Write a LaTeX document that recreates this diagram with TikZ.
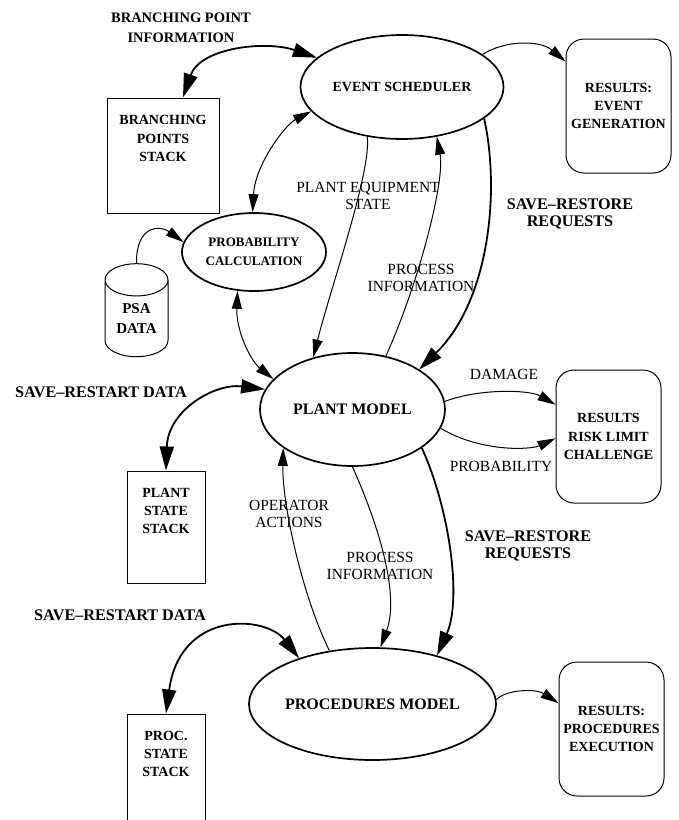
\documentclass[tikz,border=0pt]{standalone}
\usepackage{fontspec}
\setmainfont{Liberation Serif}
\usetikzlibrary{arrows.meta, positioning, shapes.geometric}

\begin{document}
\begin{tikzpicture}[x=1pt, y=-1pt,
    procnode/.style={draw, ellipse, line width=1.7pt, inner sep=0pt, align=center,
                     font=\bfseries\fontsize{14}{17}\selectfont},
    stackbox/.style={draw, rectangle, line width=1pt, inner sep=0pt,
                     minimum width=78pt},
    resultbox/.style={draw, rounded corners=18pt, line width=1pt, inner sep=0pt,
                      minimum width=105pt, minimum height=134pt, align=center,
                      font=\bfseries\fontsize{14}{18.3}\selectfont},
    boxtext/.style={align=center, inner sep=0pt,
                    font=\bfseries\fontsize{14}{18.3}\selectfont},
    flowlabel/.style={align=center, inner sep=0pt,
                      font=\fontsize{15.5}{16.7}\selectfont},
    datalabel/.style={align=center, inner sep=0pt,
                      font=\bfseries\fontsize{16.2}{16.5}\selectfont},
    thinflow/.style={line width=1pt, -{Triangle[length=18pt, width=10pt]}},
    thinboth/.style={line width=1pt,
                     {Triangle[length=18pt, width=10pt]}-{Triangle[length=18pt, width=10pt]}},
    thickflow/.style={line width=1.8pt, -{Triangle[length=24pt, width=14pt]}},
    thickboth/.style={line width=1.8pt,
                      {Triangle[length=24pt, width=14pt]}-{Triangle[length=24pt, width=14pt]}}]
  \useasboundingbox (0,0) rectangle (678,820);

  % processes
  \node[procnode, minimum width=203pt, minimum height=104pt] (sched) at (402,87) {EVENT SCHEDULER};
  \node[procnode, minimum width=144pt, minimum height=78pt,
        font=\bfseries\fontsize{13}{19}\selectfont] (prob) at (254,252) {PROBABILITY\\CALCULATION};
  \node[procnode, minimum width=185pt, minimum height=113pt,
        font=\bfseries\fontsize{16}{19}\selectfont] (plant) at (352.5,409.5) {PLANT MODEL};
  \node[procnode, minimum width=217pt, minimum height=112pt,
        font=\bfseries\fontsize{16}{19}\selectfont] (procs) at (372.5,704) {PROCEDURES MODEL};

  % stacks
  \node[stackbox, minimum width=112pt, minimum height=115pt] (bps) at (163,155.5) {};
  \node[boxtext] (bpstext) at (163,138.5) {BRANCHING\\POINTS\\STACK};
  \node[stackbox, minimum height=112pt] (pss) at (166,527) {};
  \node[boxtext] (psstext) at (166,511) {PLANT\\STATE\\STACK};
  \node[stackbox, minimum height=110pt] (prss) at (166,769) {};
  \node[boxtext] (prsstext) at (166,754) {PROC.\\STATE\\STACK};

  % data base
  \node[draw, cylinder, shape border rotate=90, aspect=0.8, line width=1pt, inner sep=0pt,
        minimum width=63pt, minimum height=93pt, align=center,
        font=\bfseries\fontsize{15}{20}\selectfont] (psa) at (136.5,318.5) {PSA\\DATA};

  % results
  \node[resultbox] (evres) at (618.5,106) {RESULTS:\\EVENT\\GENERATION};
  \node[resultbox, minimum height=133pt] (riskres) at (608.5,436.5) {RESULTS\\RISK LIMIT\\CHALLENGE};
  \node[resultbox] (procres) at (611.5,729) {RESULTS:\\PROCEDURES\\EXECUTION};

  % labels
  \node[datalabel, font=\bfseries\fontsize{14.5}{20}\selectfont] (bpilabel) at (181,28) {BRANCHING POINT\\INFORMATION};
  \node[flowlabel] (equiplabel) at (368,196) {PLANT EQUIPMENT\\STATE};
  \node[flowlabel] (infolabel) at (421,278) {PROCESS\\INFORMATION};
  \node[datalabel] (srlabel) at (570,214) {SAVE–RESTORE\\REQUESTS};
  \node[datalabel] (sdlabel) at (101,392) {SAVE–RESTART DATA};
  \node[flowlabel] (damagelabel) at (504,374) {DAMAGE};
  \node[flowlabel] (problabel) at (501,466) {PROBABILITY};
  \node[flowlabel] (oplabel) at (289,514) {OPERATOR\\ACTIONS};
  \node[flowlabel] (info2label) at (380,566) {PROCESS\\INFORMATION};
  \node[datalabel] (sr2label) at (528,546) {SAVE–RESTORE\\REQUESTS};
  \node[datalabel] (sd2label) at (120,615) {SAVE–RESTART DATA};

  % flows
  \draw[thickboth] (sched.161) .. controls (265,40) and (200,48) .. (bps.71);
  \draw[thinflow] (sched.22) .. controls (505,40) and (540,40) .. (evres.140);
  \draw[thinboth] (sched.195) .. controls (285,125) and (255,165) .. (prob.92);
  \draw[thinflow] (psa.north) .. controls (136,225) and (160,225) .. (prob.172);
  \draw[thinboth] (prob.247) .. controls (236,330) and (250,360) .. (plant.159);
  \draw[thinflow] (sched.235) .. controls (372,170) and (330,290) .. (plant.127);
  \draw[thinflow] (plant.58) .. controls (420,280) and (445,180) .. (sched.305);
  \draw[thickflow] (sched.339) .. controls (500,190) and (490,300) .. (plant.31);
  \draw[thickboth] (plant.167) .. controls (215,383) and (168,410) .. (pss.north);
  \draw[thinflow] (plant.5) .. controls (480,388) and (530,390) .. (riskres.149);
  \draw[thinflow] (plant.348) .. controls (480,452) and (530,450) .. (riskres.182);
  \draw[thinflow] (procs.129) .. controls (300,590) and (282,500) .. (plant.209);
  \draw[thinflow] (plant.270) .. controls (385,540) and (398,600) .. (procs.82);
  \draw[thickflow] (plant.331) .. controls (450,510) and (462,600) .. (procs.37);
  \draw[thickboth] (procs.148) .. controls (265,615) and (180,610) .. (prss.north);
  \draw[thinflow] (procs.2) .. controls (505,690) and (535,688) .. (procres.154);
\end{tikzpicture}
\end{document}
